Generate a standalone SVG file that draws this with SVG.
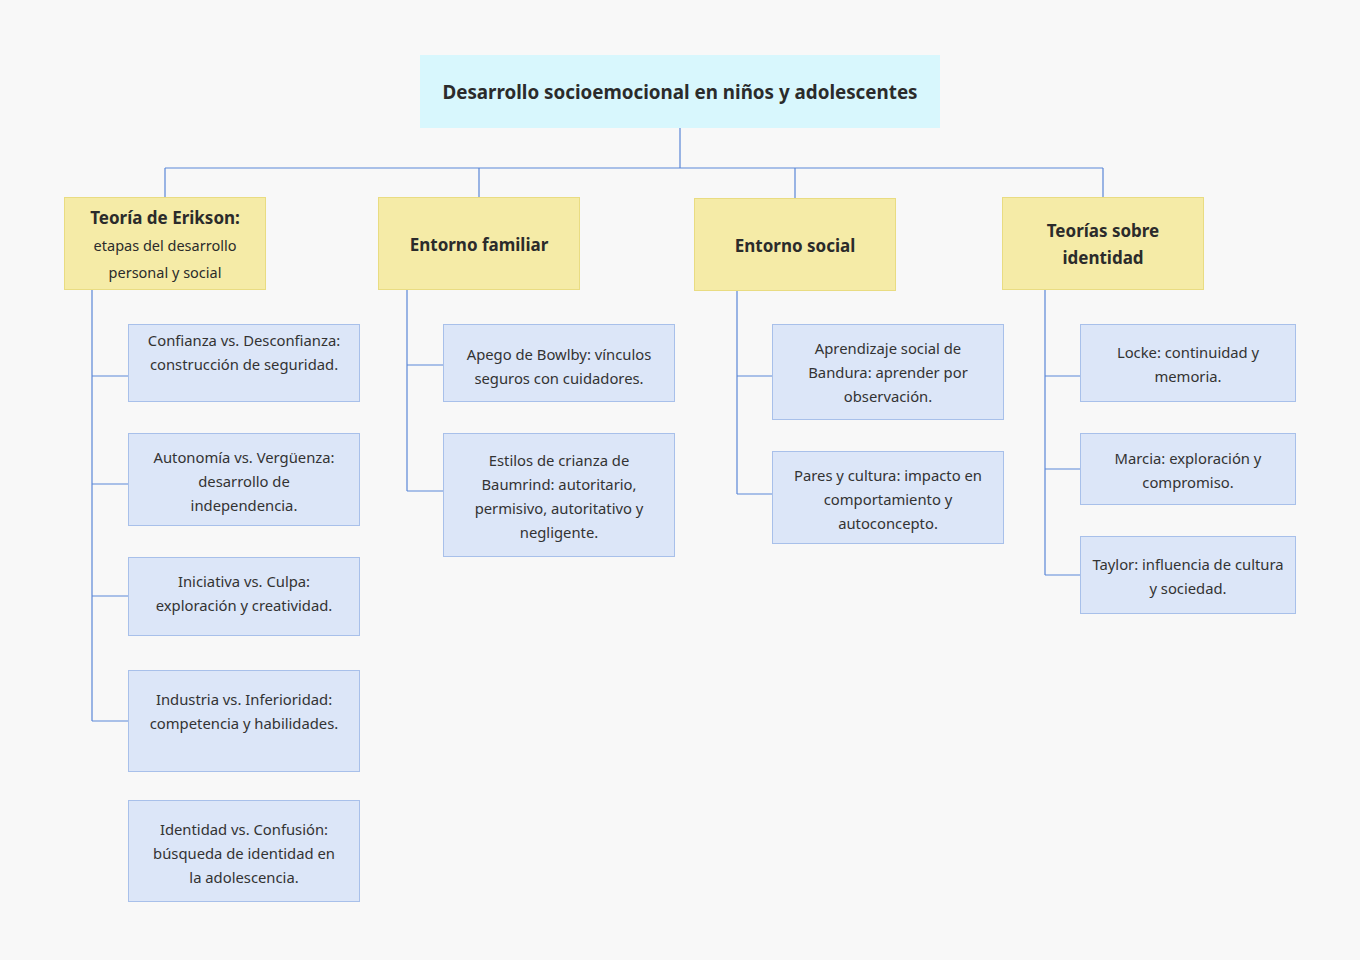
<svg xmlns="http://www.w3.org/2000/svg" width="1360" height="960" viewBox="0 0 1360 960">
<style>
.bg{fill:#f8f8f8}
.root{fill:#d8f7fd}
.l1{fill:#f5eba7;stroke:#e9dc82;stroke-width:1}
.l2{fill:#dce6f8;stroke:#a8c0ea;stroke-width:1}
.c{fill:none;stroke:#5b87d7;stroke-width:1.2}
text{font-family:"Noto Sans","Open Sans","Liberation Sans",sans-serif;fill:#2b2b2b;text-anchor:middle}
.t0{font-size:18.8px;font-weight:bold}
.t1{font-size:17px;font-weight:bold}
.t1n{font-size:14.5px}
.t2{font-size:14.8px;fill:#333}
</style>
<rect class="bg" x="0" y="0" width="1360" height="960"/>
<g id="connectors">
<path class="c" d="M680,128V168M165,168H1103M165,168V197M479,168V197M795,168V198M1103,168V197"/>
<path class="c" d="M92,290V721M92,376H128M92,484H128M92,596H128M92,721H128"/>
<path class="c" d="M407,290V491M407,365H443M407,491H443"/>
<path class="c" d="M737,291V494M737,376H772M737,494H772"/>
<path class="c" d="M1045,290V575M1045,376H1080M1045,469H1080M1045,575H1080"/>
</g>
<g id="root"><rect class="root" x="420" y="55" width="520" height="73"/><text class="t0" x="680" y="99">Desarrollo socioemocional en niños y adolescentes</text></g>
<g id="erikson"><rect class="l1" x="64.5" y="197.5" width="201" height="92"/><text class="t1" x="165" y="224">Teoría de Erikson:</text><text class="t1n" x="165" y="251">etapas del desarrollo</text><text class="t1n" x="165" y="278">personal y social</text></g>
<g id="familiar"><rect class="l1" x="378.5" y="197.5" width="201" height="92"/><text class="t1" x="479" y="251">Entorno familiar</text></g>
<g id="social"><rect class="l1" x="694.5" y="198.5" width="201" height="92"/><text class="t1" x="795" y="252">Entorno social</text></g>
<g id="identidad"><rect class="l1" x="1002.5" y="197.5" width="201" height="92"/><text class="t1" x="1103" y="237">Teorías sobre</text><text class="t1" x="1103" y="264">identidad</text></g>
<g id="confianza"><rect class="l2" x="128.5" y="324.5" width="231" height="77"/><text class="t2" x="244" y="346">Confianza vs. Desconfianza:</text><text class="t2" x="244" y="370">construcción de seguridad.</text></g>
<g id="autonomia"><rect class="l2" x="128.5" y="433.5" width="231" height="92"/><text class="t2" x="244" y="463">Autonomía vs. Vergüenza:</text><text class="t2" x="244" y="487">desarrollo de</text><text class="t2" x="244" y="511">independencia.</text></g>
<g id="iniciativa"><rect class="l2" x="128.5" y="557.5" width="231" height="78"/><text class="t2" x="244" y="587">Iniciativa vs. Culpa:</text><text class="t2" x="244" y="611">exploración y creatividad.</text></g>
<g id="industria"><rect class="l2" x="128.5" y="670.5" width="231" height="101"/><text class="t2" x="244" y="705">Industria vs. Inferioridad:</text><text class="t2" x="244" y="729">competencia y habilidades.</text></g>
<g id="identidad-confusion"><rect class="l2" x="128.5" y="800.5" width="231" height="101"/><text class="t2" x="244" y="835">Identidad vs. Confusión:</text><text class="t2" x="244" y="859">búsqueda de identidad en</text><text class="t2" x="244" y="883">la adolescencia.</text></g>
<g id="bowlby"><rect class="l2" x="443.5" y="324.5" width="231" height="77"/><text class="t2" x="559" y="360">Apego de Bowlby: vínculos</text><text class="t2" x="559" y="384">seguros con cuidadores.</text></g>
<g id="baumrind"><rect class="l2" x="443.5" y="433.5" width="231" height="123"/><text class="t2" x="559" y="466">Estilos de crianza de</text><text class="t2" x="559" y="490">Baumrind: autoritario,</text><text class="t2" x="559" y="514">permisivo, autoritativo y</text><text class="t2" x="559" y="538">negligente.</text></g>
<g id="bandura"><rect class="l2" x="772.5" y="324.5" width="231" height="95"/><text class="t2" x="888" y="354">Aprendizaje social de</text><text class="t2" x="888" y="378">Bandura: aprender por</text><text class="t2" x="888" y="402">observación.</text></g>
<g id="pares"><rect class="l2" x="772.5" y="451.5" width="231" height="92"/><text class="t2" x="888" y="481">Pares y cultura: impacto en</text><text class="t2" x="888" y="505">comportamiento y</text><text class="t2" x="888" y="529">autoconcepto.</text></g>
<g id="locke"><rect class="l2" x="1080.5" y="324.5" width="215" height="77"/><text class="t2" x="1188" y="358">Locke: continuidad y</text><text class="t2" x="1188" y="382">memoria.</text></g>
<g id="marcia"><rect class="l2" x="1080.5" y="433.5" width="215" height="71"/><text class="t2" x="1188" y="464">Marcia: exploración y</text><text class="t2" x="1188" y="488">compromiso.</text></g>
<g id="taylor"><rect class="l2" x="1080.5" y="536.5" width="215" height="77"/><text class="t2" x="1188" y="570">Taylor: influencia de cultura</text><text class="t2" x="1188" y="594">y sociedad.</text></g>
</svg>
